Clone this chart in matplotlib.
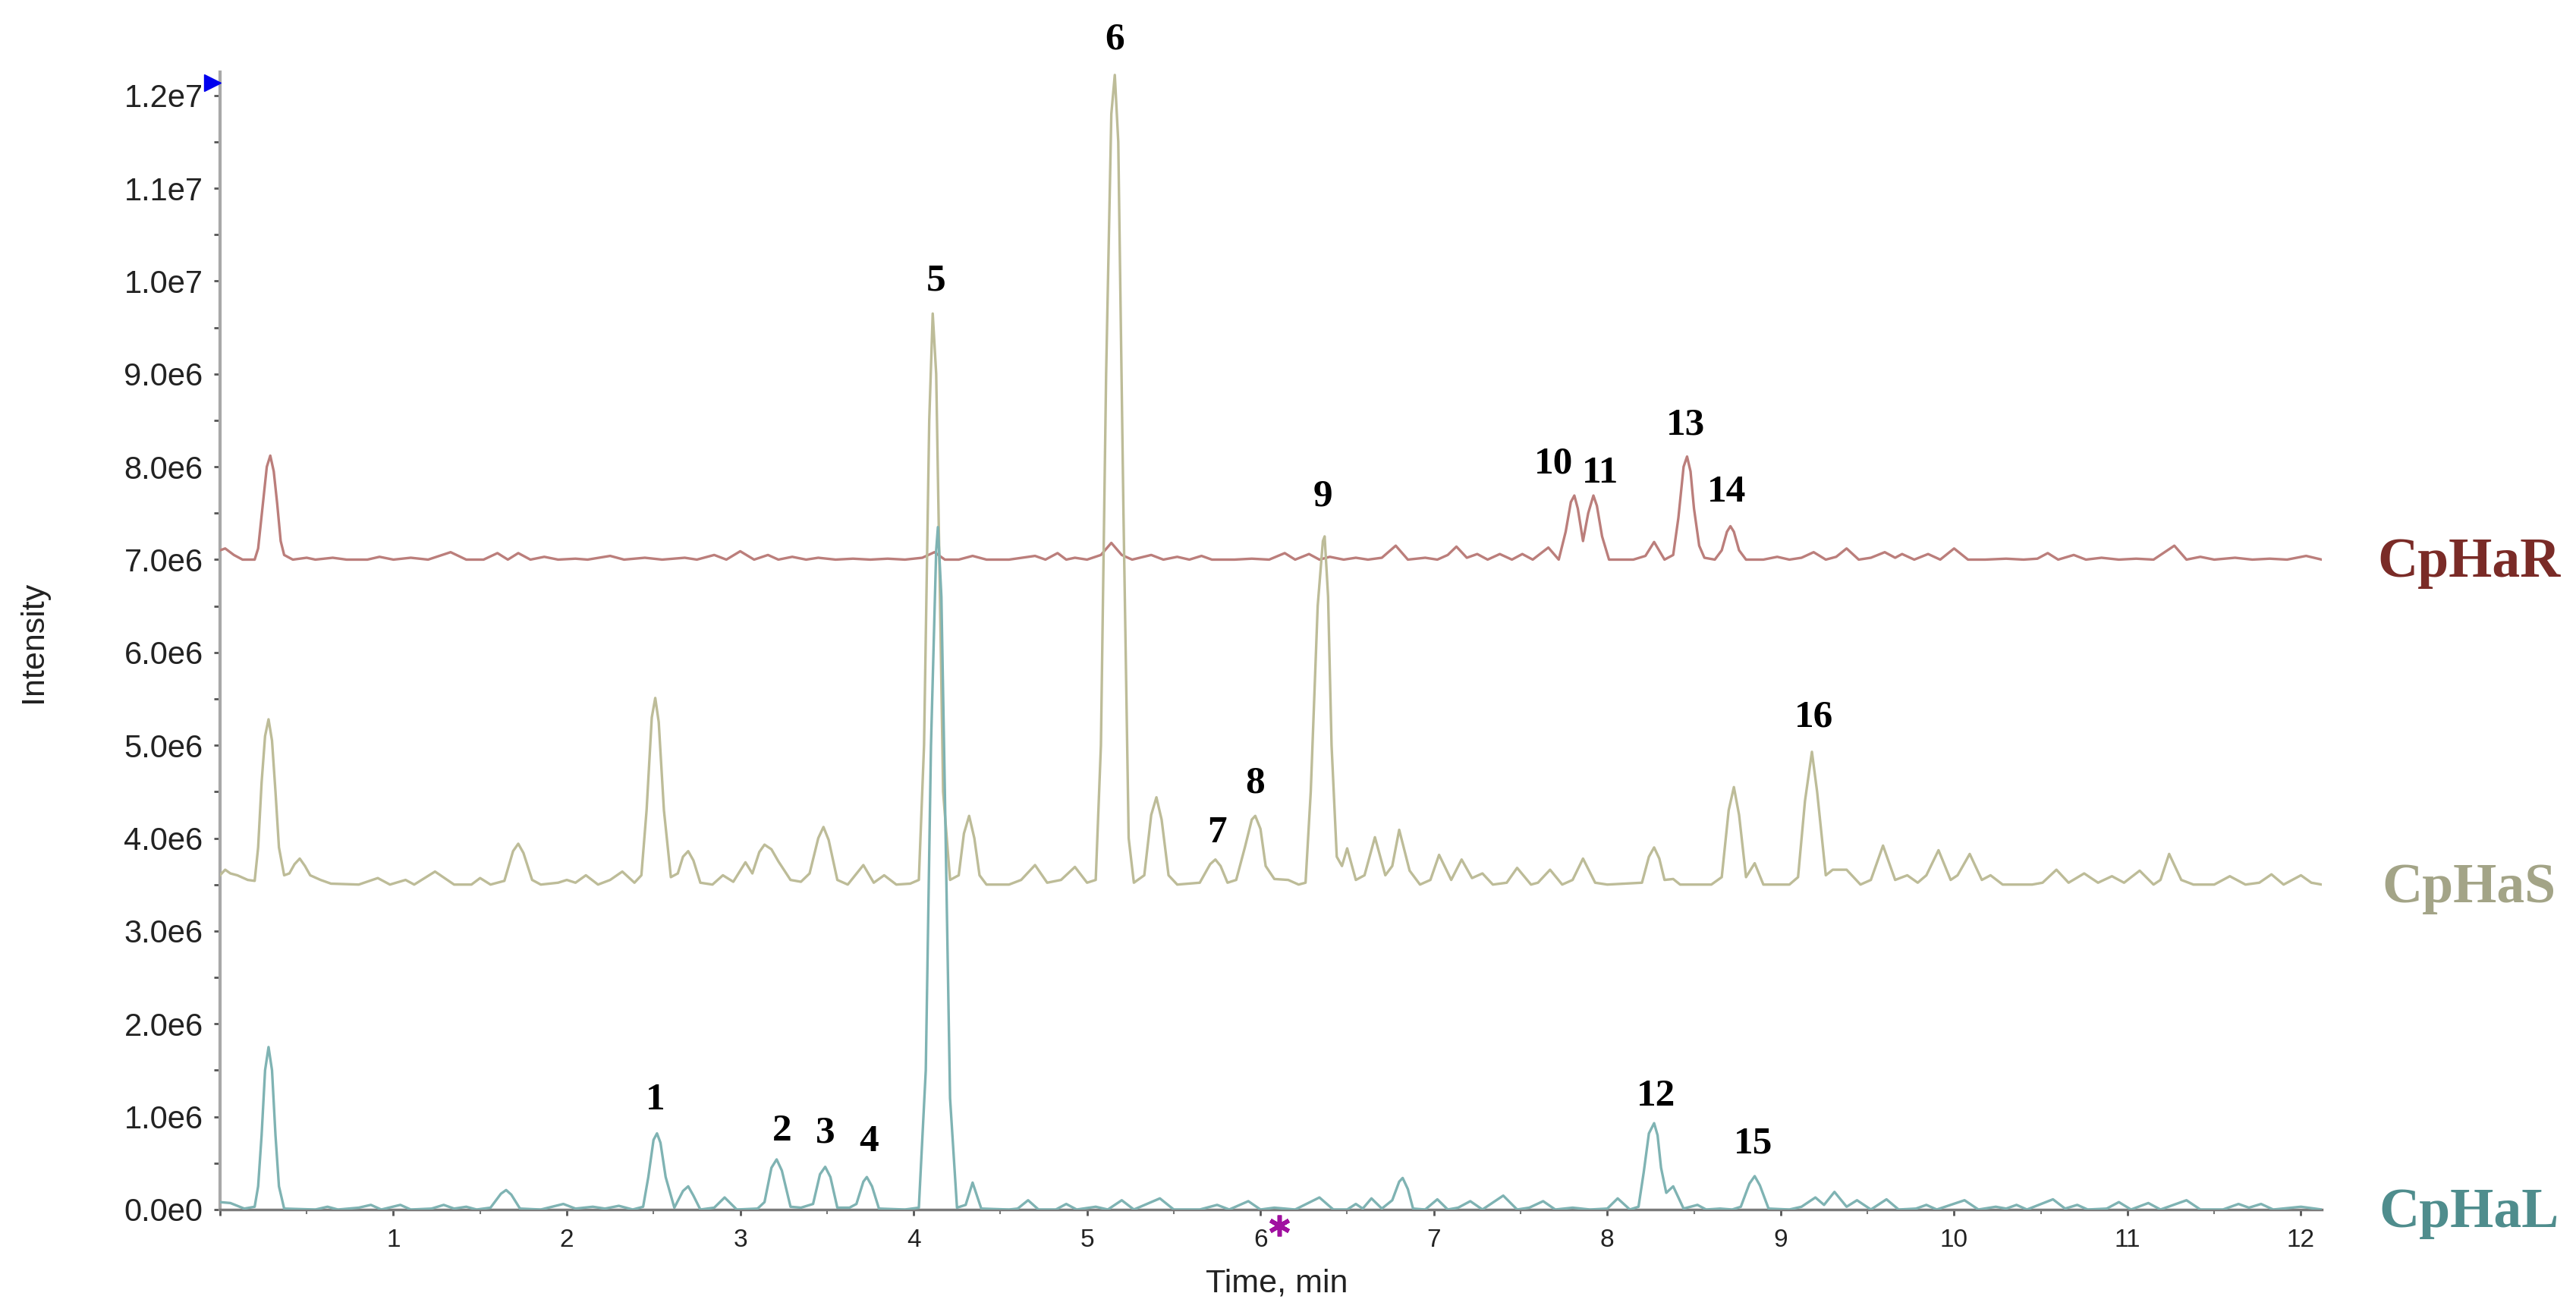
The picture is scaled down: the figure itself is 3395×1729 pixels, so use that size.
import numpy as np
import matplotlib
matplotlib.use('Agg')
import matplotlib.pyplot as plt
from matplotlib.ticker import MultipleLocator, FuncFormatter

# chromatogram vertices: (time in min, intensity in 1e6)
cphal_points = [
    (0.00, 0.08), (0.06, 0.07), (0.14, 0.01), (0.20, 0.03), (0.22, 0.25), (0.24, 0.80),
    (0.26, 1.50), (0.28, 1.75), (0.30, 1.50), (0.32, 0.80), (0.34, 0.25), (0.37, 0.01),
    (0.55, 0.00), (0.62, 0.03), (0.68, 0.00), (0.80, 0.02),
    (0.87, 0.05), (0.93, 0.00), (1.04, 0.05), (1.10, 0.00), (1.22, 0.01), (1.29, 0.05),
    (1.35, 0.01), (1.42, 0.03), (1.48, 0.00), (1.56, 0.02), (1.62, 0.17), (1.65, 0.21),
    (1.68, 0.16), (1.73, 0.01),
    (1.85, 0.00), (1.98, 0.06), (2.05, 0.01), (2.15, 0.03), (2.22, 0.01), (2.30, 0.04),
    (2.38, 0.00), (2.44, 0.03), (2.47, 0.35), (2.50, 0.75), (2.52, 0.82), (2.54, 0.72),
    (2.57, 0.35), (2.62, 0.02),
    (2.67, 0.20), (2.70, 0.25), (2.73, 0.15), (2.77, 0.00), (2.85, 0.02), (2.91, 0.13),
    (2.98, 0.00), (3.10, 0.01),
    (3.14, 0.08), (3.18, 0.45), (3.21, 0.54), (3.24, 0.42), (3.29, 0.03), (3.35, 0.02),
    (3.42, 0.06), (3.46, 0.38), (3.49, 0.46), (3.52, 0.35),
    (3.56, 0.02), (3.63, 0.02), (3.67, 0.06), (3.71, 0.30), (3.73, 0.35), (3.76, 0.25),
    (3.80, 0.01), (3.95, 0.00),
    (4.03, 0.02), (4.07, 1.50), (4.10, 5.00), (4.13, 7.10), (4.14, 7.35), (4.16, 6.60),
    (4.18, 4.50), (4.21, 1.20),
    (4.25, 0.02), (4.30, 0.05), (4.34, 0.29), (4.39, 0.01), (4.55, 0.00), (4.60, 0.01),
    (4.66, 0.10), (4.72, 0.00), (4.82, 0.00), (4.88, 0.06), (4.94, 0.00), (5.05, 0.03),
    (5.12, 0.00), (5.20, 0.10), (5.27, 0.00), (5.42, 0.12), (5.50, 0.00), (5.65, 0.00),
    (5.75, 0.05), (5.82, 0.00), (5.93, 0.09), (6.00, 0.00), (6.08, 0.02), (6.20, 0.00),
    (6.34, 0.13), (6.42, 0.00), (6.50, 0.00), (6.55, 0.06), (6.59, 0.01), (6.64, 0.12),
    (6.70, 0.01), (6.76, 0.10), (6.80, 0.30), (6.82, 0.34), (6.85, 0.22), (6.88, 0.01),
    (6.95, 0.00), (7.02, 0.11),
    (7.08, 0.00), (7.14, 0.02), (7.21, 0.09), (7.28, 0.00), (7.40, 0.15), (7.48, 0.00),
    (7.55, 0.02), (7.63, 0.09), (7.70, 0.00), (7.80, 0.02), (7.90, 0.00), (8.00, 0.01),
    (8.06, 0.12), (8.13, 0.00), (8.18, 0.03), (8.21, 0.40), (8.24, 0.82), (8.27, 0.93),
    (8.29, 0.80), (8.31, 0.45),
    (8.34, 0.18), (8.38, 0.25), (8.44, 0.01), (8.52, 0.05), (8.57, 0.00), (8.65, 0.01),
    (8.72, 0.00), (8.77, 0.03), (8.82, 0.28), (8.85, 0.36), (8.88, 0.26), (8.93, 0.01),
    (9.05, 0.00), (9.12, 0.03),
    (9.20, 0.13), (9.25, 0.05), (9.31, 0.19), (9.38, 0.03), (9.44, 0.10), (9.52, 0.00),
    (9.61, 0.11), (9.68, 0.00), (9.78, 0.01), (9.84, 0.05), (9.90, 0.00), (10.06, 0.10),
    (10.14, 0.00), (10.24, 0.03), (10.30, 0.01), (10.36, 0.05), (10.42, 0.00), (10.57, 0.11),
    (10.64, 0.01), (10.71, 0.05), (10.77, 0.00), (10.88, 0.01), (10.95, 0.08), (11.02, 0.00),
    (11.12, 0.07), (11.19, 0.00), (11.34, 0.10), (11.42, 0.00), (11.55, 0.00), (11.64, 0.06),
    (11.70, 0.02), (11.77, 0.06), (11.84, 0.00), (11.95, 0.02), (12.00, 0.03), (12.12, 0.00),
]

cphas_points = [
    (0.00, 3.60), (0.03, 3.66), (0.06, 3.62), (0.10, 3.60), (0.16, 3.55), (0.20, 3.54),
    (0.22, 3.90), (0.24, 4.60), (0.26, 5.10), (0.28, 5.28), (0.30, 5.05), (0.32, 4.50),
    (0.34, 3.90), (0.37, 3.60), (0.40, 3.62), (0.43, 3.72), (0.46, 3.78), (0.49, 3.70),
    (0.52, 3.60), (0.58, 3.55), (0.64, 3.51), (0.80, 3.50), (0.91, 3.57), (0.98, 3.50),
    (1.07, 3.55), (1.12, 3.50), (1.24, 3.64), (1.35, 3.50), (1.45, 3.50), (1.50, 3.57),
    (1.56, 3.50), (1.64, 3.54), (1.69, 3.86), (1.72, 3.94), (1.75, 3.84), (1.80, 3.55),
    (1.85, 3.50), (1.95, 3.52),
    (2.00, 3.55), (2.05, 3.52), (2.11, 3.60), (2.18, 3.50), (2.25, 3.55), (2.32, 3.64),
    (2.39, 3.52), (2.43, 3.60), (2.46, 4.30), (2.49, 5.30), (2.51, 5.51), (2.53, 5.25),
    (2.56, 4.30), (2.60, 3.58),
    (2.64, 3.62), (2.67, 3.80), (2.70, 3.86), (2.73, 3.76), (2.77, 3.52), (2.84, 3.50),
    (2.90, 3.60), (2.96, 3.53),
    (3.03, 3.74), (3.07, 3.62), (3.11, 3.85), (3.14, 3.93), (3.18, 3.88), (3.22, 3.75),
    (3.29, 3.55), (3.35, 3.53),
    (3.40, 3.62), (3.45, 4.00), (3.48, 4.12), (3.51, 3.98), (3.56, 3.55), (3.62, 3.50),
    (3.71, 3.71), (3.77, 3.52),
    (3.83, 3.60), (3.90, 3.50), (3.98, 3.51), (4.03, 3.55), (4.06, 5.00), (4.09, 8.50),
    (4.11, 9.65), (4.13, 9.00), (4.15, 6.80), (4.17, 4.50), (4.21, 3.55), (4.26, 3.60),
    (4.29, 4.05), (4.32, 4.24), (4.35, 4.00),
    (4.38, 3.60), (4.42, 3.50), (4.55, 3.50), (4.62, 3.55), (4.70, 3.71), (4.77, 3.52),
    (4.85, 3.55), (4.93, 3.69), (5.00, 3.52), (5.05, 3.55), (5.08, 5.00), (5.11, 9.00),
    (5.14, 11.80), (5.16, 12.22), (5.18, 11.50), (5.21, 7.50), (5.24, 4.00), (5.27, 3.52),
    (5.33, 3.60), (5.37, 4.25), (5.40, 4.44), (5.43, 4.20), (5.47, 3.60), (5.52, 3.50),
    (5.65, 3.52), (5.71, 3.72), (5.74, 3.77), (5.77, 3.70),
    (5.81, 3.52), (5.86, 3.55), (5.91, 3.90), (5.95, 4.20), (5.97, 4.24), (6.00, 4.10),
    (6.03, 3.70), (6.08, 3.56),
    (6.16, 3.55), (6.22, 3.50), (6.26, 3.52), (6.29, 4.50), (6.33, 6.50), (6.36, 7.20),
    (6.37, 7.25), (6.39, 6.60), (6.41, 5.00), (6.44, 3.80), (6.47, 3.70), (6.50, 3.89),
    (6.55, 3.55), (6.60, 3.60),
    (6.66, 4.01), (6.72, 3.60), (6.76, 3.70), (6.80, 4.09), (6.86, 3.65), (6.92, 3.50),
    (6.98, 3.55), (7.03, 3.82), (7.10, 3.55), (7.16, 3.77), (7.22, 3.57), (7.28, 3.62),
    (7.34, 3.50), (7.42, 3.52), (7.48, 3.68), (7.56, 3.50), (7.60, 3.52), (7.67, 3.66),
    (7.74, 3.50), (7.80, 3.55), (7.86, 3.78), (7.93, 3.52), (8.00, 3.50), (8.10, 3.51),
    (8.20, 3.52), (8.24, 3.80), (8.27, 3.90), (8.30, 3.78), (8.33, 3.55), (8.38, 3.56),
    (8.42, 3.50), (8.60, 3.50),
    (8.66, 3.58), (8.70, 4.30), (8.73, 4.55), (8.76, 4.25), (8.80, 3.58), (8.85, 3.73),
    (8.90, 3.50), (9.05, 3.50),
    (9.10, 3.58), (9.14, 4.40), (9.18, 4.93), (9.21, 4.50), (9.26, 3.60), (9.30, 3.66),
    (9.38, 3.66), (9.46, 3.50),
    (9.52, 3.55), (9.59, 3.92), (9.66, 3.55), (9.73, 3.60), (9.79, 3.52), (9.84, 3.60),
    (9.91, 3.87), (9.98, 3.55), (10.02, 3.60), (10.09, 3.83), (10.16, 3.55), (10.21, 3.60),
    (10.28, 3.50), (10.45, 3.50), (10.51, 3.52), (10.59, 3.66), (10.66, 3.52), (10.75, 3.62),
    (10.83, 3.52), (10.91, 3.59), (10.98, 3.52), (11.07, 3.65), (11.15, 3.50), (11.19, 3.55),
    (11.24, 3.83), (11.31, 3.55), (11.38, 3.50), (11.50, 3.50), (11.59, 3.59), (11.68, 3.50),
    (11.76, 3.52), (11.83, 3.61), (11.90, 3.50), (12.00, 3.60), (12.06, 3.52), (12.12, 3.50),
]

cphar_points = [
    (0.00, 7.10), (0.03, 7.12), (0.08, 7.05), (0.13, 7.00), (0.20, 7.00), (0.22, 7.12),
    (0.25, 7.65), (0.27, 8.00), (0.29, 8.12), (0.31, 7.95), (0.33, 7.60), (0.35, 7.20),
    (0.37, 7.05), (0.42, 7.00), (0.50, 7.02),
    (0.55, 7.00), (0.65, 7.02), (0.73, 7.00), (0.85, 7.00), (0.92, 7.03), (1.00, 7.00),
    (1.10, 7.02), (1.20, 7.00), (1.33, 7.08), (1.42, 7.00), (1.52, 7.00), (1.60, 7.07),
    (1.66, 7.00), (1.72, 7.07), (1.79, 7.00), (1.87, 7.03), (1.95, 7.00), (2.05, 7.01),
    (2.12, 7.00), (2.25, 7.04), (2.33, 7.00), (2.45, 7.02), (2.55, 7.00), (2.68, 7.02),
    (2.75, 7.00), (2.85, 7.05), (2.92, 7.00), (3.00, 7.09), (3.08, 7.00), (3.16, 7.05),
    (3.22, 7.00), (3.30, 7.03), (3.38, 7.00), (3.45, 7.02), (3.55, 7.00), (3.65, 7.01),
    (3.75, 7.00), (3.85, 7.01), (3.95, 7.00), (4.05, 7.02), (4.12, 7.08), (4.18, 7.00),
    (4.26, 7.00), (4.34, 7.04), (4.42, 7.00), (4.55, 7.00), (4.70, 7.04), (4.76, 7.00),
    (4.83, 7.07), (4.88, 7.00), (4.93, 7.02), (5.00, 7.00), (5.08, 7.05), (5.14, 7.18),
    (5.20, 7.05), (5.26, 7.00), (5.37, 7.05), (5.44, 7.00), (5.52, 7.03), (5.59, 7.00),
    (5.66, 7.04), (5.72, 7.00), (5.85, 7.00), (5.95, 7.01), (6.05, 7.00), (6.14, 7.07),
    (6.20, 7.00), (6.28, 7.06), (6.34, 7.00), (6.40, 7.03), (6.48, 7.00), (6.55, 7.02),
    (6.62, 7.00), (6.70, 7.02), (6.78, 7.15), (6.85, 7.00), (6.95, 7.02), (7.02, 7.00),
    (7.08, 7.05), (7.13, 7.14), (7.19, 7.02), (7.25, 7.06), (7.31, 7.00), (7.38, 7.06),
    (7.45, 7.00), (7.51, 7.06), (7.57, 7.00), (7.66, 7.13), (7.72, 7.00), (7.76, 7.30),
    (7.79, 7.62), (7.81, 7.69), (7.83, 7.55), (7.86, 7.20), (7.89, 7.50), (7.92, 7.69),
    (7.94, 7.58), (7.97, 7.25), (8.01, 7.00), (8.15, 7.00),
    (8.22, 7.04), (8.27, 7.19), (8.33, 7.00), (8.38, 7.05), (8.41, 7.45), (8.44, 8.00),
    (8.46, 8.11), (8.48, 7.95), (8.50, 7.55), (8.53, 7.15), (8.56, 7.02), (8.62, 7.00),
    (8.66, 7.10), (8.69, 7.30), (8.71, 7.36), (8.73, 7.30), (8.76, 7.10),
    (8.80, 7.00), (8.90, 7.00), (8.98, 7.03), (9.05, 7.00), (9.12, 7.02), (9.19, 7.08),
    (9.26, 7.00), (9.32, 7.03), (9.38, 7.12), (9.45, 7.00), (9.52, 7.02), (9.60, 7.08),
    (9.66, 7.02), (9.70, 7.06), (9.77, 7.00), (9.85, 7.06), (9.92, 7.00), (10.00, 7.12),
    (10.08, 7.00), (10.18, 7.00), (10.30, 7.01), (10.40, 7.00), (10.48, 7.01), (10.54, 7.07),
    (10.60, 7.00), (10.69, 7.05), (10.76, 7.00), (10.85, 7.02), (10.95, 7.00), (11.05, 7.01),
    (11.15, 7.00), (11.27, 7.15), (11.34, 7.00), (11.42, 7.03), (11.50, 7.00), (11.62, 7.02),
    (11.72, 7.00), (11.82, 7.01), (11.92, 7.00), (12.03, 7.04), (12.12, 7.00),
]

series_names = ['CpHaR', 'CpHaS', 'CpHaL']
series_baselines = [7.0, 3.5, 0.0]   # where each name sits, 1e6

# peak numbers: (label, time, intensity 1e6)
peak_labels = [
    ('1', 2.51, 1.18), ('2', 3.24, 0.84), ('3', 3.49, 0.82), ('4', 3.74, 0.73),
    ('5', 4.13, 10.0), ('6', 5.16, 12.6), ('7', 5.75, 4.05), ('8', 5.97, 4.59),
    ('9', 6.36, 7.68), ('10', 7.69, 8.03), ('11', 7.96, 7.93), ('12', 8.28, 1.22),
    ('13', 8.45, 8.45), ('14', 8.69, 7.72), ('15', 8.84, 0.71), ('16', 9.19, 5.30),
]

plt.rcParams['font.family'] = ['Liberation Sans', 'DejaVu Sans']

line_colors = {'CpHaR': '#BB7E7B', 'CpHaS': '#BDBC98', 'CpHaL': '#7FB3B3'}
name_colors = {'CpHaR': '#7A2B27', 'CpHaS': '#A3A487', 'CpHaL': '#4F8D8D'}
traces = {'CpHaR': cphar_points, 'CpHaS': cphas_points, 'CpHaL': cphal_points}

fig = plt.figure(figsize=(33.95, 17.29), dpi=100)
ax = fig.add_axes([0.0854, 0.0781, 0.8159, 0.8669])

for name in series_names:
    pts = np.array(traces[name])
    ax.plot(pts[:, 0], pts[:, 1] * 1e6, color=line_colors[name], lw=2.4,
            solid_joinstyle='round', zorder=3)

ax.set_xlim(0, 12.12)
ax.set_ylim(0, 12.25e6)

# axes look of the instrument software
for side in ['top', 'right']:
    ax.spines[side].set_visible(False)
ax.spines['left'].set_color('#A8A8A8')
ax.spines['left'].set_linewidth(3)
ax.spines['bottom'].set_color('#7A7A7A')
ax.spines['bottom'].set_linewidth(2.5)

ax.xaxis.set_major_locator(MultipleLocator(1))
ax.xaxis.set_minor_locator(MultipleLocator(0.5))
ax.yaxis.set_major_locator(MultipleLocator(1e6))
ax.yaxis.set_minor_locator(MultipleLocator(0.5e6))


def sci_label(v, pos):
    if abs(v) < 1:
        return '0.0e0'
    e = int(np.floor(np.log10(abs(v))))
    return f'{v / 10 ** e:.1f}e{e}'


ax.yaxis.set_major_formatter(FuncFormatter(sci_label))
ax.xaxis.set_major_formatter(FuncFormatter(lambda v, p: '' if v == 0 else f'{int(round(v))}'))

ax.tick_params(axis='y', which='both', direction='out', length=6, width=2,
               color='#555555', labelsize=30, labelcolor='#222222', pad=10)
ax.tick_params(axis='x', which='major', direction='out', length=6, width=2,
               color='#555555', labelsize=24, labelcolor='#222222', pad=12)
ax.tick_params(axis='x', which='minor', direction='out', length=4, width=1.5, color='#777777')

fig.text(0.013, 0.511, 'Intensity', rotation=90, ha='center', va='center',
         fontsize=31, color='#222222')
fig.text(0.4957, 0.0214, 'Time, min', ha='center', va='center', fontsize=31, color='#222222')

# series names to the right of the plot
for name, base in zip(series_names, series_baselines):
    ax.text(12.97, base * 1e6 - 0.04e6, name, ha='center', va='center',
            fontsize=53, fontweight='bold', family='Liberation Serif',
            color=name_colors[name], clip_on=False)

# peak numbers
for lab, t, val in peak_labels:
    ax.text(t, val * 1e6, lab, ha='center', va='center', fontsize=37,
            fontweight='bold', family='Liberation Serif', color='black',
            clip_on=False, zorder=5)

# small markers of the software: blue arrow at the top and purple star
ax.plot([-0.045], [12.14e6], marker='>', color='#0000EE', ms=16, clip_on=False, zorder=6)
ax.plot([6.11], [-0.17e6], marker=(6, 2, 0), color='#A010A0', ms=20, mew=4,
        clip_on=False, zorder=6)

fig.savefig('out.png', dpi=100, facecolor='white')
